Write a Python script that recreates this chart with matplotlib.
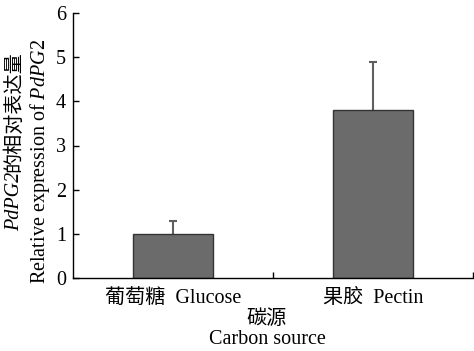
import numpy as np
import matplotlib
matplotlib.use('Agg')
import matplotlib.pyplot as plt

# данные с рисунка
categories = ['葡萄糖  Glucose', '果胶  Pectin']
values = [1.0, 3.8]
errors = [0.3, 1.1]
yticks = [0, 1, 2, 3, 4, 5, 6]

plt.rcParams['font.family'] = ['Liberation Serif', 'Noto Sans CJK SC']
plt.rcParams['mathtext.fontset'] = 'custom'
plt.rcParams['mathtext.rm'] = 'Liberation Serif'
plt.rcParams['mathtext.it'] = 'Liberation Serif:italic'
fs = 14.5

fig = plt.figure(figsize=(4.74, 3.51), dpi=100)
W, H = 474, 351
ax = fig.add_axes([73 / W, 1 - 278 / H, 400 / W, 265 / H])

x = np.arange(len(categories))
ax.bar(x, values, width=0.4, color='#6b6b6b', edgecolor='#333333', linewidth=1.0, zorder=2)
eb = ax.errorbar(x, values, yerr=[np.zeros(len(errors)), errors], fmt='none',
                 ecolor='#5f5f5f', elinewidth=1.5, capsize=3, capthick=1.5, zorder=1)
eb[1][0].set_visible(False)  # нижние "усы" не нужны
eb[1][1].set_color('#333333')

ax.set_xlim(-0.5, len(categories) - 0.5)
ax.set_ylim(0, 6)
ax.set_yticks(yticks)
ax.set_yticklabels([str(t) for t in yticks], fontsize=fs)
ax.set_xticks([0.5, 1.5])
ax.set_xticklabels([])
ax.set_xticks(x, minor=True)
ax.set_xticklabels(categories, minor=True, fontsize=fs)
ax.tick_params(axis='x', which='minor', length=0, pad=8)
ax.tick_params(axis='x', which='major', direction='in', length=4, width=1)
ax.tick_params(axis='y', direction='in', length=4, width=1, pad=5)
for s in ['top', 'right']:
    ax.spines[s].set_visible(False)
for s in ['left', 'bottom']:
    ax.spines[s].set_linewidth(1.0)

# подпись оси x в две строки
fig.text(267 / W, 1 - 319 / H, '碳源', ha='center', va='center', fontsize=fs)
fig.text(267 / W, 1 - 339 / H, 'Carbon source', ha='center', va='center', fontsize=fs)

# подпись оси y: первая строка из двух кусков
t1 = fig.text(15 / W, 1 - 231 / H, 'PdPG2', rotation=90, ha='center', va='bottom',
              fontsize=fs, style='italic')
fig.canvas.draw()
bb = t1.get_window_extent()
fig.text(15 / W, bb.y1 / H, '的相对表达量', rotation=90, ha='center', va='bottom', fontsize=fs)
fig.text(40 / W, 1 - 161 / H, 'Relative expression of $\\mathit{PdPG2}$', rotation=90,
         ha='center', va='center', fontsize=fs)

fig.savefig('out.png', dpi=100)
